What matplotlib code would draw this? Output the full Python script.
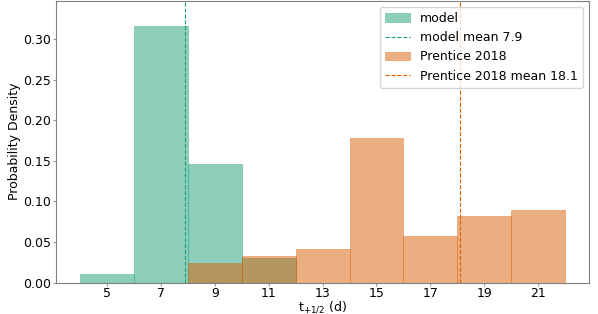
import matplotlib.pyplot as plt

# histogram bins (left edges, width 2 days) and densities
model_edges = [4, 6, 8, 10]
model_density = [0.0107, 0.316, 0.1456, 0.0307]
model_mean = 7.9

prentice_edges = [8, 10, 12, 14, 16, 18, 20]
prentice_density = [0.0246, 0.0328, 0.041, 0.1788, 0.0574, 0.0816, 0.0894]
prentice_mean = 18.1

bin_width = 2
xticks = [5, 7, 9, 11, 13, 15, 17, 19, 21]

teal = "#1b9e77"
orange = "#d95f02"

fig = plt.figure(figsize=(5.98, 3.14), dpi=100)
ax = fig.add_axes([0.094, 0.1, 0.891, 0.898])

b1 = ax.bar(model_edges, model_density, width=bin_width, align="edge",
            color=teal, alpha=0.5, edgecolor=teal, linewidth=0.5, label="model")
l1 = ax.axvline(model_mean, color=teal, linestyle="--", linewidth=0.8,
                label=f"model mean {model_mean}")
b2 = ax.bar(prentice_edges, prentice_density, width=bin_width, align="edge",
            color=orange, alpha=0.5, edgecolor=orange, linewidth=0.5,
            label="Prentice 2018")
l2 = ax.axvline(prentice_mean, color=orange, linestyle="--", linewidth=0.8,
                label=f"Prentice 2018 mean {prentice_mean}")

ax.set_xlim(3.1, 22.9)
ax.set_ylim(0, 0.3475)
ax.set_xticks(xticks)
ax.tick_params(labelsize=9, length=2, width=0.8, color="0.6", pad=1.5)
for s in ax.spines.values():
    s.set_color("0.5")
ax.set_xlabel("t$_{+1/2}$ (d)", fontsize=9, labelpad=-1)
ax.set_ylabel("Probability Density", fontsize=9, labelpad=2)
ax.legend([b1, l1, b2, l2],
          ["model", f"model mean {model_mean}", "Prentice 2018",
           f"Prentice 2018 mean {prentice_mean}"],
          loc="upper right", fontsize=9)

fig.savefig("out.png", dpi=100)
